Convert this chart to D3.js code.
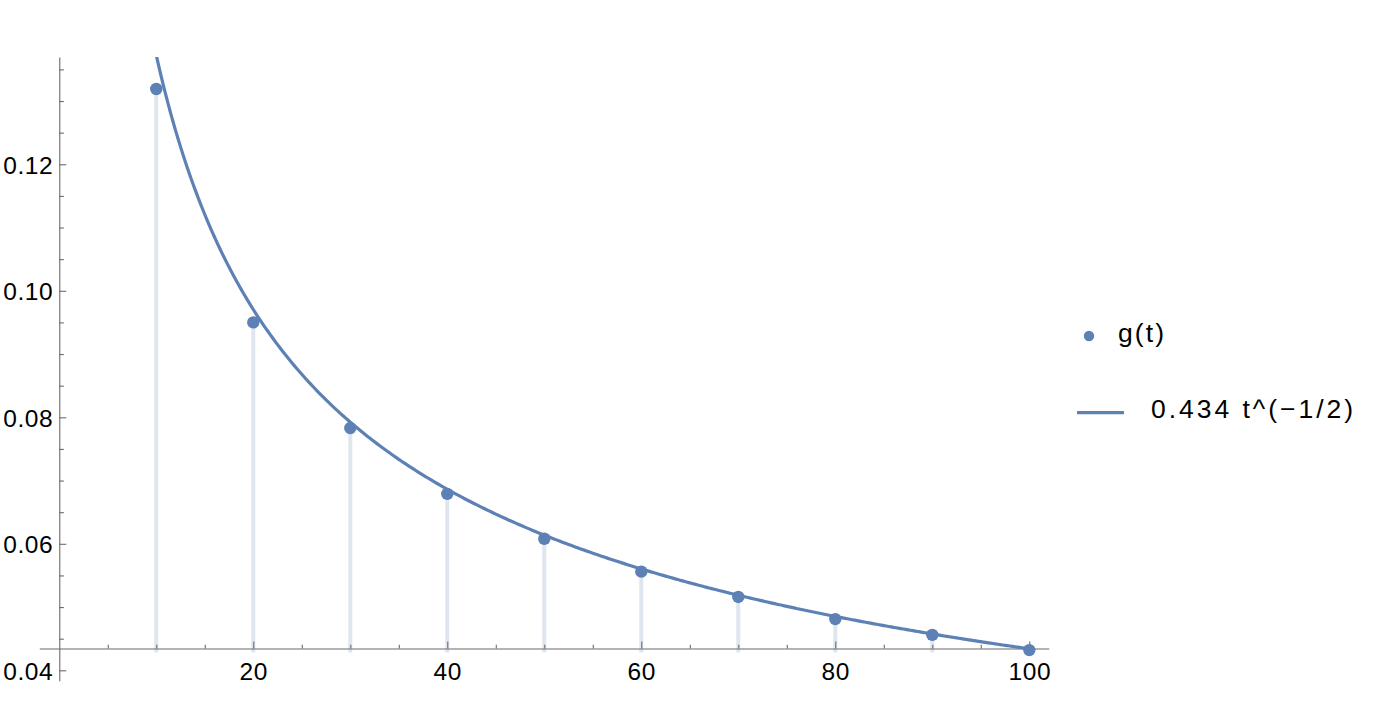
<!DOCTYPE html>
<html><head><meta charset="utf-8">
<script src="https://cdn.jsdelivr.net/npm/d3@7"></script>
<style>
body{margin:0;background:#fff}
text{font-family:"Liberation Sans",Arial,Helvetica,sans-serif}
</style>
</head><body>
<svg id="chart" width="1388" height="728"></svg>
<script>
// ---- data ----
const tValues = [10, 20, 30, 40, 50, 60, 70, 80, 90, 100];
const gValues = [0.1319, 0.0950, 0.0783, 0.0679, 0.0608, 0.0556, 0.0516, 0.0481, 0.0456, 0.0432];
const fitCoef = 0.434;
const fitExponent = -0.5;
const xMajorTicks = [20, 40, 60, 80, 100];
const xMinorTicks = [5, 10, 15, 25, 30, 35, 45, 50, 55, 65, 70, 75, 85, 90, 95];
const yMajorTicks = [0.04, 0.06, 0.08, 0.10, 0.12];
const yTickLabels = ["0.04", "0.06", "0.08", "0.10", "0.12"];
const yMinorTicks = [0.045, 0.05, 0.055, 0.065, 0.07, 0.075, 0.085, 0.09, 0.095, 0.105, 0.11, 0.115, 0.125, 0.13, 0.135];
const legendLabels = ["g(t)", "0.434 t^(\u22121/2)"];
const xDomain = [-2.06, 102];
const yDomain = [0.03836, 0.13696];
const axisOrigin = [0, 0.04345];

// ---- styles ----
const blue = "#5e81b5";
const stemColor = "#dfe6f0";
const axisColor = "#6b6b6b";

const svg = d3.select("#chart");
const x = d3.scaleLinear().domain(xDomain).range([39.3, 1048.7]);
const y = d3.scaleLinear().domain(yDomain).range([680.7, 57]);

const data = tValues.map((t, i) => ({t, g: gValues[i]}));

// clip
svg.append("defs").append("clipPath").attr("id", "plotclip")
  .append("rect")
  .attr("x", x(xDomain[0])).attr("y", y(yDomain[1]))
  .attr("width", x(xDomain[1]) - x(xDomain[0]))
  .attr("height", y(yDomain[0]) - y(yDomain[1]));

// stems
svg.append("g").selectAll("line").data(data).join("line")
  .attr("x1", d => x(d.t)).attr("x2", d => x(d.t))
  .attr("y1", d => y(d.g)).attr("y2", y(axisOrigin[1]) + 4)
  .attr("stroke", stemColor).attr("stroke-width", 4);

// axes
function styleAxis(g) {
  g.select(".domain").attr("stroke", axisColor).attr("stroke-width", 1.1);
  g.selectAll(".tick line").attr("stroke", axisColor).attr("stroke-width", 1.1);
  g.selectAll(".tick text").attr("fill", "#000").attr("font-size", 24.5)
    .attr("letter-spacing", "0.6px")
    .attr("font-family", "'Liberation Sans', Arial, sans-serif");
}

const xAxisY = y(axisOrigin[1]);
const yAxisX = x(axisOrigin[0]);

svg.append("g").attr("transform", `translate(0,${xAxisY})`)
  .call(d3.axisBottom(x).tickValues(xMinorTicks).tickSizeInner(-3.8).tickSizeOuter(0).tickFormat(""))
  .call(styleAxis);
svg.append("g").attr("transform", `translate(0,${xAxisY})`)
  .call(d3.axisBottom(x).tickValues(xMajorTicks).tickSizeInner(-7).tickSizeOuter(0).tickPadding(14.2).tickFormat(d3.format("d")))
  .call(styleAxis)
  .call(g => g.select(".domain").remove());

svg.append("g").attr("transform", `translate(${yAxisX},0)`)
  .call(d3.axisLeft(y).tickValues(yMinorTicks).tickSizeInner(-4.6).tickSizeOuter(0).tickFormat(""))
  .call(styleAxis);
svg.append("g").attr("transform", `translate(${yAxisX},0)`)
  .call(d3.axisLeft(y).tickValues(yMajorTicks).tickSizeInner(-7).tickSizeOuter(0).tickPadding(6)
    .tickFormat((d, i) => yTickLabels[i]))
  .call(styleAxis)
  .call(g => g.select(".domain").remove())
  .call(g => g.selectAll(".tick text").attr("dy", "0.37em"));

// fit curve
const curveT = d3.range(1, 100.001, 0.25);
const line = d3.line().x(d => x(d)).y(d => y(fitCoef * Math.pow(d, fitExponent)));
svg.append("path").datum(curveT)
  .attr("clip-path", "url(#plotclip)")
  .attr("d", line)
  .attr("fill", "none").attr("stroke", blue).attr("stroke-width", 3.2);

// points
svg.append("g").selectAll("circle").data(data).join("circle")
  .attr("cx", d => x(d.t)).attr("cy", d => y(d.g)).attr("r", 6.2)
  .attr("fill", blue);

// legend
const lg = svg.append("g");
lg.append("circle").attr("cx", 1089).attr("cy", 336).attr("r", 5.2).attr("fill", blue);
lg.append("text").attr("x", 1118).attr("y", 341.5).attr("font-size", 26.5)
  .attr("textLength", 46).attr("lengthAdjust", "spacing").text(legendLabels[0]);
lg.append("line").attr("x1", 1077).attr("x2", 1124).attr("y1", 412.7).attr("y2", 412.7)
  .attr("stroke", blue).attr("stroke-width", 3.2);
lg.append("text").attr("x", 1151).attr("y", 417.7).attr("font-size", 26.5)
  .attr("textLength", 202).attr("lengthAdjust", "spacing").text(legendLabels[1]);
</script>
</body></html>
